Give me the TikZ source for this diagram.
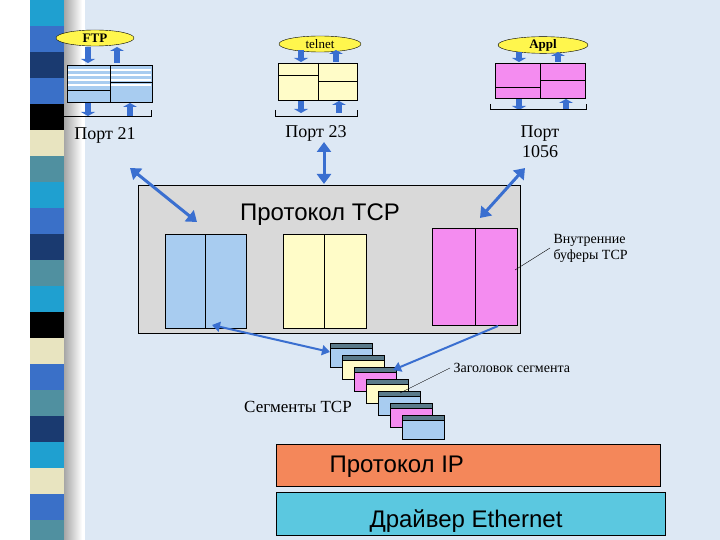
\documentclass[tikz,border=0pt]{standalone}
\usepackage{fontspec}
\setmainfont{Liberation Serif}
\newfontfamily\sansf{Liberation Sans}
\usetikzlibrary{shapes.geometric,arrows.meta}
\definecolor{bg}{HTML}{DDE8F4}
\definecolor{arr}{HTML}{3A6FD0}
\definecolor{fblue}{HTML}{A8CCF0}
\definecolor{fyel}{HTML}{FFFCC8}
\definecolor{fpink}{HTML}{F48CF0}
\definecolor{hdr}{HTML}{5A7A8A}
\definecolor{tcpg}{HTML}{D9D9D9}
\definecolor{ipor}{HTML}{F4875A}
\definecolor{eth}{HTML}{5BC8E0}
\tikzset{
 app/.style={ellipse,draw=black,fill=yellow!70,inner sep=0pt,minimum height=16pt,font=\bfseries\fontsize{13}{14}\selectfont},
 buf/.style={draw=black,thick},
 dbl/.style={draw=arr,line width=3pt,{Triangle[length=10pt,width=14pt]}-{Triangle[length=10pt,width=14pt]}},
 sdbl/.style={draw=arr,line width=2pt,{Triangle[length=8pt,width=10pt]}-{Triangle[length=8pt,width=10pt]}},
 small/.style={draw=arr,line width=6pt,-{Triangle[length=4pt,width=14pt]}},
 lbl/.style={font=\fontsize{18}{20}\selectfont,align=center},
 mid/.style={font=\fontsize{14}{16}\selectfont},
 big/.style={font=\sansf\fontsize{24}{26}\selectfont},
}
\begin{document}
\begin{tikzpicture}[x=1pt,y=-1pt]
\fill[bg] (0,0) rectangle (720,540);
\useasboundingbox (0,0) rectangle (720,540);
\fill[white] (0,0) rectangle (85,540);
\shade[left color=gray!70,right color=white] (64,0) rectangle (82,540);
\foreach \c [count=\i from 0] in {1FA0D0,3A70C8,1A3A70,3A70C8,000000,E8E4C0,5090A0,1FA0D0,3A70C8,1A3A70,5090A0,1FA0D0,000000,E8E4C0,3A70C8,5090A0,1A3A70,1FA0D0,E8E4C0,3A70C8,5090A0}
  {\definecolor{sc}{HTML}{\c}\fill[sc] (30,\i*26) rectangle (64,\i*26+26);}
% FTP
\node[app,minimum width=78pt] (ftp) at (95,38) {FTP};
\draw[buf,fill=fblue] (67,65) rectangle (152,102);
\foreach \y in {70,75,80,85} {\draw[white,line width=1.5pt] (68,\y) -- (151,\y);}
\draw[thick] (67,90) -- (110,90); \draw[thick] (110,82) -- (152,82);
\draw[thick] (110,65) -- (110,102);
\draw[buf] (67,65) rectangle (152,102);
\draw[small] (88,47) -- (88,63); \draw[small] (117,63) -- (117,47);
\draw[small] (88,103) -- (88,116); \draw[small] (130,116) -- (130,103);
\draw (63,110) -- (63,116) -- (151,116) -- (151,110);
\node[lbl] (p21) at (105,135) {Порт 21};
% telnet
\node[app,minimum width=82pt,font=\fontsize{13}{14}\selectfont] (tel) at (320,44) {telnet};
\draw[buf,fill=fyel] (278,63) rectangle (357,100);
\draw[thick] (318,63) -- (318,100); \draw[thick] (278,75) -- (318,75); \draw[thick] (318,81) -- (357,81);
\draw[small] (301,50) -- (301,62); \draw[small] (336,62) -- (336,50);
\draw[small] (301,101) -- (301,113); \draw[small] (339,113) -- (339,101);
\draw (275,110) -- (275,116) -- (357,116) -- (357,110);
\node[lbl] (p23) at (316,133) {Порт 23};
% Appl
\node[app,minimum width=90pt] (apl) at (543,45) {Appl};
\draw[buf,fill=fpink] (495,63) rectangle (585,98);
\draw[thick] (540,63) -- (540,98); \draw[thick] (495,87) -- (540,87); \draw[thick] (540,80) -- (585,80);
\draw[small] (519,52) -- (519,62); \draw[small] (558,62) -- (558,52);
\draw[small] (519,99) -- (519,110); \draw[small] (566,110) -- (566,99);
\draw (490,104) -- (490,109) -- (586,109) -- (586,104);
\node[lbl] (p1056) at (540,142) {Порт\\1056};
% TCP
\node[draw=black,thick,fill=tcpg,minimum width=382pt,minimum height=148pt,inner sep=0pt] (tcp) at (329,259) {};
\node[big] (tcpt) at (320,215) {Протокол TCP};
\draw[buf,fill=fblue] (165,234) rectangle (246,328); \draw (205,234) -- (205,328);
\draw[buf,fill=fyel] (283,234) rectangle (366,328); \draw (324,234) -- (324,328);
\draw[buf,fill=fpink] (432,228) rectangle (517,325); \draw (475,228) -- (475,325);
\coordinate (bb) at (212,325); \coordinate (pb) at (498,326);
\coordinate (a1) at (197,222); \coordinate (a3) at (480,218);
\draw[dbl] (130,168) -- (a1);
\draw[dbl] (324,142) -- (324,184);
\draw[dbl] (525,168) -- (a3);
\node[mid,align=left,anchor=west] (vb) at (550,248) {Внутренние\\буферы TCP};
\draw (515,270) -- (vb.west);
% segments
\foreach \c [count=\i from 0] in {fblue,fyel,fpink,fyel,fblue,fpink,fblue}{
  \pgfmathsetmacro\xx{330+12*\i}\pgfmathsetmacro\yy{343+12*\i}
  \draw[fill=\c] (\xx,\yy) rectangle ++(42,24);
  \draw[fill=hdr] (\xx,\yy) rectangle ++(42,5);
}
\coordinate (s1) at (330,352); \coordinate (s3) at (393,370);
\draw[sdbl] (bb) -- (s1);
\draw[draw=arr,line width=2pt,-{Triangle[length=8pt,width=10pt]}] (pb) -- (s3);
\node[mid,anchor=west] (zs) at (450,368) {Заголовок сегмента};
\draw (400,393) -- (zs.west);
\node[font=\fontsize{17}{19}\selectfont] (st) at (298,407) {Сегменты TCP};
% IP
\draw[thick,fill=ipor] (276,444) rectangle (660,486);
\node[big,anchor=west] (ip) at (326,467) {Протокол IP};
\draw[thick,fill=eth] (276,492) rectangle (665,535);
\node[big,anchor=west] (et) at (366,521) {Драйвер Ethernet};
\end{tikzpicture}
\end{document}
